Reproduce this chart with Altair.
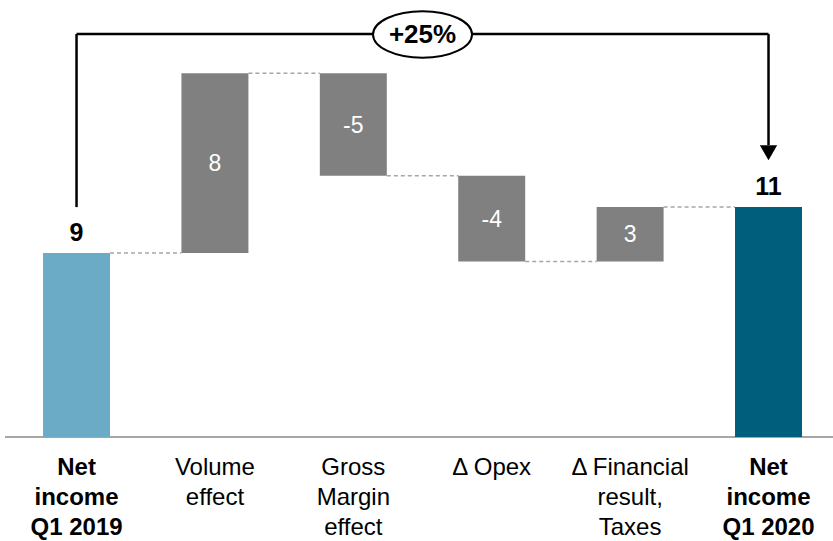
import altair as alt
import pandas as pd

categories = ["Net\nincome\nQ1 2019", "Volume\neffect", "Gross\nMargin\neffect",
              "Δ Opex", "Δ Financial\nresult,\nTaxes", "Net\nincome\nQ1 2020"]
kinds = ["total", "delta", "delta", "delta", "delta", "total"]
values = [8.8, 8.6, -4.9, -4.1, 2.6, 11.0]
value_labels = ["9", "8", "-5", "-4", "3", "11"]
bold_cats = [True, False, False, False, False, True]
colors = ["#6BABC6", "#808080", "#808080", "#808080", "#808080", "#005E7D"]
growth_label = "+25%"

PX = 20.9
HALF = 0.242
YMIN, YMAX = -104 / PX, 437 / PX
XMIN, XMAX = -0.553, 5.466
BRACKET_Y = 19.28

rows = []
running = 0.0
for i, (c, k, v, lab, b, col) in enumerate(zip(categories, kinds, values, value_labels, bold_cats, colors)):
    if k == "total":
        lo, hi = 0.0, v
        running = v
    else:
        lo, hi = running, running + v
        running = running + v
    rows.append(dict(idx=float(i), x0=i - HALF, x1=i + HALF, lo=min(lo, hi), hi=max(lo, hi),
                     mid=(lo + hi) / 2, end=running, cat=c, kind=k, label=lab,
                     bold=b, color=col, cy=-38 / PX,
                     cx0=i + HALF, cx1=i + 1 - HALF))
df = pd.DataFrame(rows)

xs = alt.Scale(domain=[XMIN, XMAX], nice=False, zero=False)
ys = alt.Scale(domain=[YMIN, YMAX], nice=False, zero=False)

def X(f):
    return alt.X(f, scale=xs, axis=None)

def Y(f):
    return alt.Y(f, scale=ys, axis=None)

base = alt.Chart(df)

bars = base.mark_bar().encode(
    x=X("x0:Q"), x2="x1:Q", y=Y("lo:Q"), y2="hi:Q",
    color=alt.Color("color:N", scale=None))

connectors = base.transform_filter("datum.idx < 5").mark_rule(
    color="#A6A6A6", strokeDash=[4, 3], strokeWidth=1.5).encode(
    x=X("cx0:Q"), x2="cx1:Q", y=Y("end:Q"))

total_labels = base.transform_filter("datum.kind == 'total'").mark_text(
    font="Liberation Sans", fontSize=25, fontWeight="bold", baseline="alphabetic", dy=-12,
    color="#000000").encode(x=X("idx:Q"), y=Y("hi:Q"), text="label:N")

inner_labels = base.transform_filter("datum.kind == 'delta'").mark_text(
    font="Liberation Sans", fontSize=23, baseline="middle", dy=1, color="#FFFFFF").encode(
    x=X("idx:Q"), y=Y("mid:Q"), text="label:N")

cat_bold = base.transform_filter("datum.bold").mark_text(
    font="Liberation Sans", fontSize=24, fontWeight="bold", baseline="alphabetic",
    lineBreak="\n", lineHeight=30, color="#000000").encode(
    x=X("idx:Q"), y=Y("cy:Q"), text="cat:N")
cat_norm = base.transform_filter("!datum.bold").mark_text(
    font="Liberation Sans", fontSize=24, baseline="alphabetic",
    lineBreak="\n", lineHeight=30, color="#000000").encode(
    x=X("idx:Q"), y=Y("cy:Q"), text="cat:N")

first_idx, last_idx = 0.0, float(len(categories) - 1)
ann = pd.DataFrame([dict(
    axa=-0.517, axb=XMAX, ay=0.0,
    bxa=first_idx, bxb=last_idx, by=BRACKET_Y,
    lx=first_idx, ly1=BRACKET_Y, ly2=values[0] + 2.2,
    rx=last_idx, ry1=BRACKET_Y, ry2=values[-1] + 2.97,
    ex=(first_idx + last_idx) / 2, ey=BRACKET_Y - 0.02,
    tx=last_idx, ty=values[-1] + 2.6, t=growth_label)])
abase = alt.Chart(ann)

axis_line = abase.mark_rule(color="#A6A6A6", strokeWidth=2).encode(
    x=X("axa:Q"), x2="axb:Q", y=Y("ay:Q"))
bracket_h = abase.mark_rule(color="#000000", strokeWidth=2.5).encode(
    x=X("bxa:Q"), x2="bxb:Q", y=Y("by:Q"))
bracket_l = abase.mark_rule(color="#000000", strokeWidth=2.5).encode(
    x=X("lx:Q"), y=Y("ly1:Q"), y2="ly2:Q")
bracket_r = abase.mark_rule(color="#000000", strokeWidth=2.5).encode(
    x=X("rx:Q"), y=Y("ry1:Q"), y2="ry2:Q")

ellipse_path = ("M-1,0C-1,-0.2596,-0.5523,-0.47,0,-0.47C0.5523,-0.47,1,-0.2596,1,0"
                "C1,0.2596,0.5523,0.47,0,0.47C-0.5523,0.47,-1,0.2596,-1,0Z")
bubble = abase.mark_point(
    shape=ellipse_path, size=9801, filled=True, fill="#FFFFFF", stroke="#000000",
    strokeWidth=2, opacity=1, fillOpacity=1, strokeOpacity=1).encode(
    x=X("ex:Q"), y=Y("ey:Q"))
growth_text = abase.mark_text(
    font="Liberation Sans", fontSize=26, fontWeight="bold", baseline="middle", dy=1,
    color="#000000").encode(x=X("ex:Q"), y=Y("ey:Q"), text="t:N")
arrow = abase.mark_point(
    shape="triangle-down", size=300, filled=True, color="#000000", opacity=1).encode(
    x=X("tx:Q"), y=Y("ty:Q"))

chart = alt.layer(
    axis_line, connectors, bars, bracket_h, bracket_l, bracket_r, arrow, bubble,
    growth_text, total_labels, inner_labels, cat_bold, cat_norm
).properties(
    width=833, height=541, padding=0, autosize=alt.AutoSizeParams(type="none")
).configure_view(stroke=None)

chart.save("out.html", embed_options={"renderer": "svg", "actions": False})
